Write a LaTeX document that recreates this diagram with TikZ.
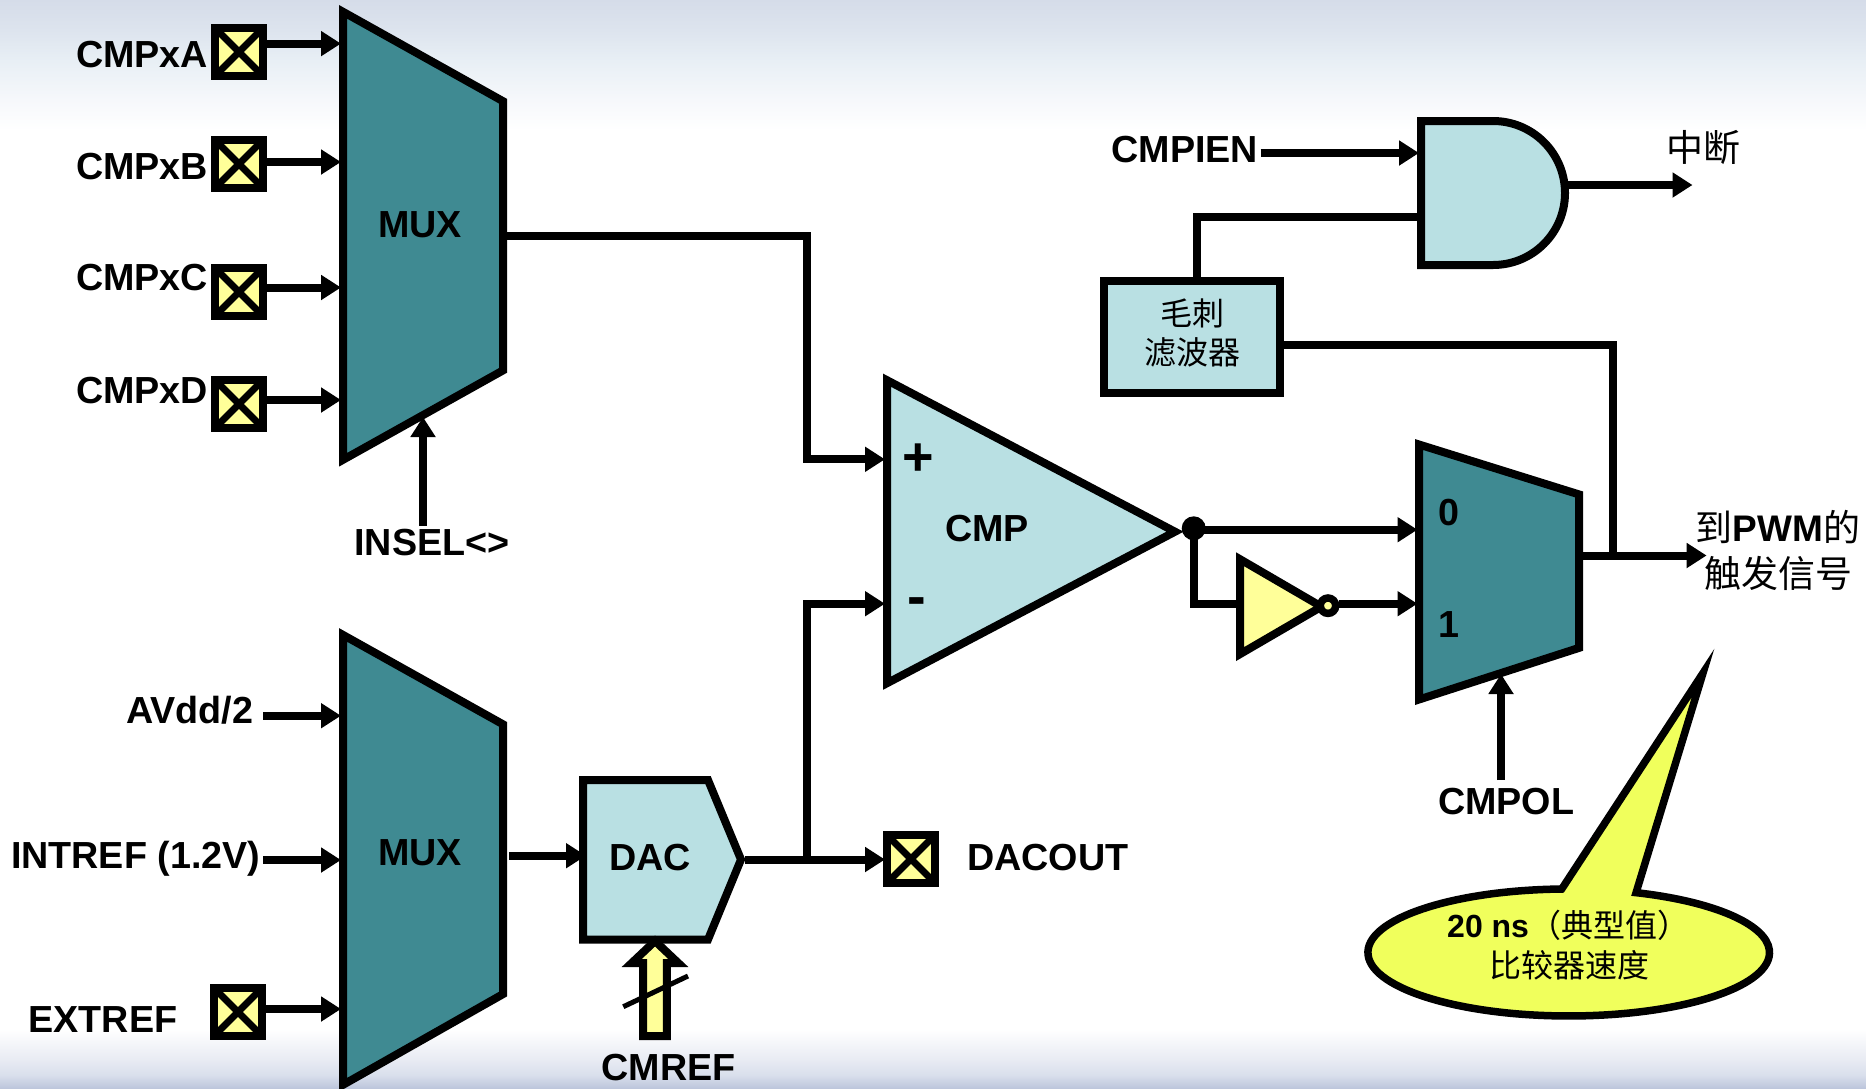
\documentclass[tikz,border=0pt]{standalone}
\usepackage{fontspec}
\setmainfont{Liberation Sans}
\newfontfamily\cjk{Noto Sans CJK SC}
\usetikzlibrary{arrows.meta}
\definecolor{tealmux}{HTML}{3F8A92}
\definecolor{paleblue}{HTML}{B9E0E3}
\definecolor{padyellow}{HTML}{FFFF99}
\definecolor{callyellow}{HTML}{F0FF5C}
\definecolor{bgA}{HTML}{BDC6DC}
\definecolor{bgB}{HTML}{D9DFEC}
\definecolor{bgC}{HTML}{E8EBF3}
\definecolor{bgD}{HTML}{D5DCE9}
\definecolor{bgE}{HTML}{DDE4EE}
\definecolor{bgF}{HTML}{E8EFF5}
\definecolor{bgG}{HTML}{F6F8FB}
\pgfdeclareverticalshading{pagebg}{100bp}{color(0bp)=(bgA); color(25bp)=(bgA); color(25.6bp)=(bgB); color(26.3bp)=(bgC); color(27.7bp)=(white); color(69bp)=(white); color(70.4bp)=(bgG); color(72.2bp)=(bgF); color(73.6bp)=(bgE); color(75bp)=(bgD); color(100bp)=(bgD)}
\newcommand{\fs}[1]{\fontsize{#1}{#1}\selectfont}
\begin{document}
\begin{tikzpicture}[x=1pt,y=-1pt,
  line join=miter,
  block/.style={draw=black,line width=8pt,miter limit=12},
  mux/.style={block,fill=tealmux},
  pale/.style={block,fill=paleblue},
  lab/.style={inner sep=0pt,outer sep=0pt,font=\bfseries\fs{37.7}},
  cjklab/.style={inner sep=0pt,outer sep=0pt,font=\cjk\fs{32}},
  sig/.style={line width=8pt},
  sigarrow/.style={line width=8pt,-{Triangle[length=20pt,width=24pt]}},
  pad/.style={draw=black,line width=8pt,fill=padyellow,inner sep=0pt,outer sep=4pt,minimum size=48pt,
    path picture={\draw[line width=7pt] (path picture bounding box.north west)--(path picture bounding box.south east)
      (path picture bounding box.north east)--(path picture bounding box.south west);}},
]
\useasboundingbox (0,0) rectangle (1866,1088);
\path[shading=pagebg] (0,0) rectangle (1866,1088);

% MUX 1
\draw[mux] (343,11.8)--(503,101.2)--(503,370.4)--(343,459.8)--cycle;
\node[lab,anchor=base] (muxa) at (420,237) {MUX};
% MUX 2
\draw[mux] (343,634.9)--(503,724.3)--(503,994.1)--(343,1084.8)--cycle;
\node[lab,anchor=base] (muxb) at (420,865) {MUX};
% MUX 3
\draw[mux] (1419,444.5)--(1579,494.4)--(1579,647.9)--(1419,699.5)--cycle;
\node[lab,anchor=base] (zero) at (1449,525) {0};
\node[lab,anchor=base] (one) at (1449,637) {1};
% DAC
\draw[pale] (583,780)--(708,780)--(741,859.5)--(708,939.5)--(583,939.5)--cycle;
\node[lab,anchor=base] (dac) at (650,870) {DAC};
% comparator
\draw[pale] (887,380.2)--(1175,531.7)--(887,683.2)--cycle;
\node[lab,anchor=base] (cmp) at (987,541) {CMP};
\node[inner sep=0pt,font=\bfseries\fs{54}] (plus) at (918,459.6) {+};
\node[inner sep=0pt,font=\bfseries\fs{56}] (minus) at (917,607) {-};
% inverter
\draw[block,fill=padyellow] (1240,559.2)--(1321.5,606.65)--(1240,654.1)--cycle;
\node[circle,draw=black,line width=7.5pt,fill=padyellow,inner sep=0pt,minimum size=15.4pt,outer sep=3.75pt] (bubble) at (1328,605.7) {};
% AND gate
\draw[pale] (1421,121)--(1493,121) arc[start angle=90,end angle=-90,radius=72pt]--(1421,265)--cycle;
% glitch filter
\node[draw=black,line width=8pt,fill=paleblue,minimum width=176.5pt,minimum height=112pt,inner sep=0pt,outer sep=4pt] (filter) at (1192.2,337) {};
\node[cjklab,anchor=center] (fa) at (1192,313) {毛刺};
\node[cjklab,anchor=center] (fb) at (1192,352) {滤波器};

% pads
\node[pad] (padA) at (239,52) {};
\node[pad] (padB) at (239,164) {};
\node[pad] (padC) at (239,292) {};
\node[pad] (padD) at (239,404) {};
\node[pad] (padE) at (238,1012) {};
\node[pad] (padO) at (911,859) {};

% labels
\node[lab,anchor=base west] (la) at (76,67) {CMPxA};
\node[lab,anchor=base west] (lb) at (76,179) {CMPxB};
\node[lab,anchor=base west] (lc) at (76,290.5) {CMPxC};
\node[lab,anchor=base west] (ld) at (76,403) {CMPxD};
\node[lab,anchor=base west] (insel) at (354.5,555.5) {INSEL<>};
\node[lab,anchor=base west] (avdd) at (126,723.5) {AVdd/2};
\node[lab,anchor=base west] (intref) at (11,868) {INTREF (1.2V)};
\node[lab,anchor=base west] (extref) at (28.5,1032) {EXTREF};
\node[lab,anchor=base west] (cmref) at (601.5,1080) {CMREF};
\node[lab,anchor=base west] (dacout) at (967,870) {DACOUT};
\node[lab,anchor=base west] (cmpien) at (1111.5,162.5) {CMPIEN};
\node[lab,anchor=base west] (cmpol) at (1438,814.3) {CMPOL};
\node[inner sep=0pt,anchor=center,font=\cjk\fs{37}] (irq) at (1703.5,147) {中断};
\node[inner sep=0pt,anchor=base,font=\fs{37}] (pwma) at (1778,541.5) {{\cjk 到}\textbf{PWM}{\cjk 的}};
\node[inner sep=0pt,anchor=center,font=\cjk\fs{37}] (pwmb) at (1778,573) {触发信号};

% port coordinates
\coordinate (aIn) at (341,43.6);
\coordinate (bIn) at (341,162);
\coordinate (cIn) at (341,287.5);
\coordinate (dIn) at (341,400);
\coordinate (aOut) at (267,43.6);
\coordinate (bOut) at (267,162);
\coordinate (cOut) at (267,287.5);
\coordinate (dOut) at (267,400);
\coordinate (selS) at (423,526);
\coordinate (selT) at (423,417);
\coordinate (muxaOut) at (507,236);
\coordinate (plusIn) at (885,459.3);
\coordinate (minusIn) at (885,603.7);
\coordinate (vrefS) at (263,715.7);
\coordinate (vrefT) at (341,715.7);
\coordinate (irefS) at (263,860);
\coordinate (irefT) at (341,860);
\coordinate (erefS) at (266,1009);
\coordinate (erefT) at (341,1009);
\coordinate (muxbOut) at (509,855.7);
\coordinate (dacIn) at (586,855.7);
\coordinate (dacOut) at (745,859.5);
\coordinate (dacPad) at (885,859.5);
\coordinate (cmpOut) at (1193.7,529.7);
\coordinate (m0) at (1417.5,529.7);
\coordinate (m1) at (1417.5,603.7);
\coordinate (invIn) at (1240,603.7);
\coordinate (invOut) at (1339,603.7);
\coordinate (mOut) at (1583,555.5);
\coordinate (mT) at (1706.6,555.5);
\coordinate (polS) at (1501,780);
\coordinate (polT) at (1501,674);
\coordinate (ienS) at (1260.5,153);
\coordinate (ienT) at (1419,153);
\coordinate (andB) at (1421,216.7);
\coordinate (andOut) at (1568,185);
\coordinate (andT) at (1692.5,185);
\coordinate (fOut) at (1284,345);
\coordinate (fIn) at (1196.8,277);
\coordinate (tap) at (1613,555);

% connectors
\draw[sigarrow] (aOut)--(aIn);
\draw[sigarrow] (bOut)--(bIn);
\draw[sigarrow] (cOut)--(cIn);
\draw[sigarrow] (dOut)--(dIn);
\draw[sigarrow] (selS)--(selT);
\draw[sigarrow] (muxaOut)-|(807,459.3)--(plusIn);
\draw[sigarrow] (807,859.5)|-(minusIn);
\draw[sigarrow] (vrefS)--(vrefT);
\draw[sigarrow] (irefS)--(irefT);
\draw[sigarrow] (erefS)--(erefT);
\draw[sigarrow] (muxbOut)--(dacIn);
\draw[sigarrow] (dacOut)--(dacPad);
\draw[sigarrow] (cmpOut)--(m0);
\draw[sig] (cmpOut)|-(invIn);
\draw[sigarrow] (invOut)--(m1);
\draw[sigarrow] (mOut)--(mT);
\draw[sigarrow] (polS)--(polT);
\draw[sigarrow] (ienS)--(ienT);
\draw[sig] (fIn)|-(andB);
\draw[sigarrow] (andOut)--(andT);
\draw[sig] (fOut)-|(tap);
\node[circle,fill=black,inner sep=0pt,minimum size=24pt] (dot) at (1193.7,528.3) {};

% CMREF bus arrow
\draw[block,fill=padyellow] (643.2,1036)--(643.2,963)--(631.7,963)--(655,941)--(678.3,963)--(666.8,963)--(666.8,1036)--cycle;
\coordinate (slashA) at (623.3,1006.7);
\coordinate (slashB) at (688,976);
\draw[line width=5pt] (slashA)--(slashB);

% callout
\draw[draw=black,line width=7.5pt,fill=callyellow,miter limit=12]
  (1561.7,889) arc[start angle=92,end angle=430.4,x radius=200.8pt,y radius=63.5pt] -- (1703,673) -- cycle;
\node[inner sep=0pt,anchor=base west,font=\fs{32}] (ca) at (1447,937.3) {\textbf{20 ns}{\cjk （典型值）}};
\node[cjklab,anchor=center] (cb) at (1569.5,965.5) {比较器速度};
\end{tikzpicture}
\end{document}
